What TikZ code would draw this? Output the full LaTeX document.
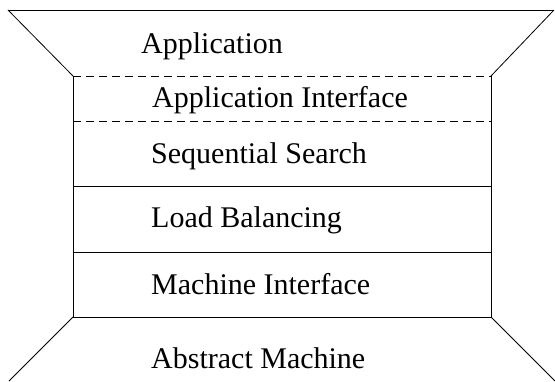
\documentclass[tikz,border=0pt]{standalone}
\usepackage{fontspec}
\setmainfont{Liberation Serif}
\usetikzlibrary{calc}

\begin{document}
\begin{tikzpicture}[%
x=1pt, y=-1pt,
layer/.style={anchor=base west, inner sep=0pt, font=\fontsize{30}{35}\selectfont},
]
\useasboundingbox (0,0) rectangle (555,381);
%% corners;
\coordinate (tl) at (73,76);
\coordinate (tr) at (491,76);
\coordinate (bl) at (73,317);
\coordinate (br) at (491,317);
%% funnel top;
\draw [line width=1pt] (8,10) -- (554,10);
\draw [line width=0.8pt] (8,10) -- (tl);
\draw [line width=0.8pt] (554,10) -- (tr);
%% funnel bottom;
\draw [line width=0.8pt] (bl) -- (9,381);
\draw [line width=0.8pt] (br) -- (555,381);
%% box;
\draw [line width=0.8pt] (tl) -- (bl) -- (br) -- (tr);
\draw [line width=0.8pt, dash pattern=on 8pt off 5pt] (tl) -- (tr);
\draw [line width=0.8pt, dash pattern=on 8pt off 5pt] (73,121) -- (491,121);
\draw [line width=0.8pt] (73,186) -- (491,186);
\draw [line width=0.8pt] (73,252) -- (491,252);
%% labels;
\node [layer] (app) at (141,53) {Application};
\node [layer] (api) at (152,107) {Application Interface};
\node [layer] (seq) at (151,163) {Sequential Search};
\node [layer] (lb) at (151,227) {Load Balancing};
\node [layer] (mi) at (151,294) {Machine Interface};
\node [layer] (am) at (151,368) {Abstract Machine};
\end{tikzpicture}
\end{document}
